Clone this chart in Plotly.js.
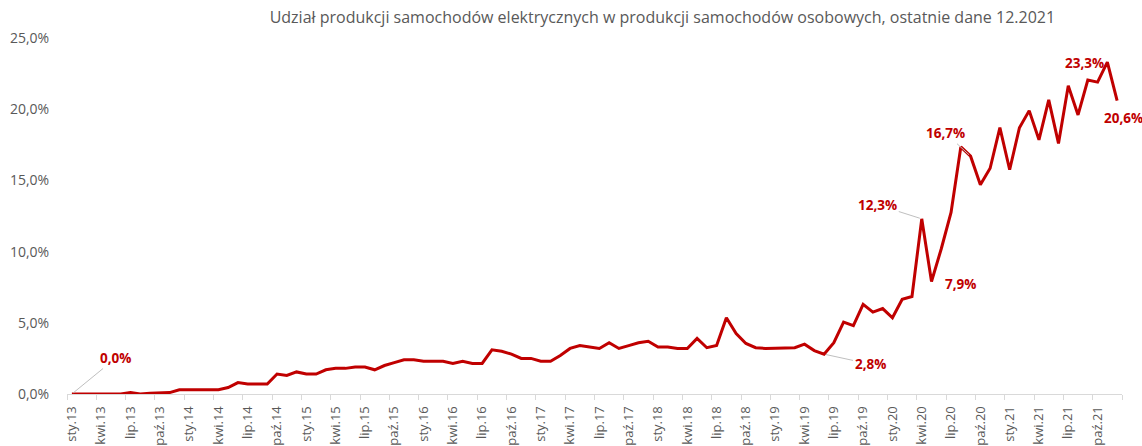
<!DOCTYPE html>
<html>
<head>
<meta charset="utf-8">
<script src="https://cdn.plot.ly/plotly-3.0.1.min.js"></script>
<style>html,body{margin:0;padding:0;background:#fff;}#chart{width:1142px;height:446px;}</style>
</head>
<body>
<div id="chart"></div>
<script>
// Monthly data Jan 2013 - Dec 2021 (share in %)
var monthNames = ["sty","lut","mar","kwi","maj","cze","lip","sie","wrz","paź","lis","gru"];
var years = ["13","14","15","16","17","18","19","20","21"];
var shareValues = [
  0.0, 0.0, 0.0, 0.0, 0.0, 0.0, 0.1, 0.0, 0.05, 0.1, 0.1, 0.3,
  0.3, 0.3, 0.3, 0.3, 0.45, 0.8, 0.7, 0.7, 0.7, 1.4, 1.3, 1.55,
  1.4, 1.4, 1.7, 1.8, 1.8, 1.9, 1.9, 1.7, 2.0, 2.2, 2.4, 2.4,
  2.3, 2.3, 2.3, 2.15, 2.3, 2.15, 2.15, 3.1, 3.0, 2.8, 2.5, 2.5,
  2.3, 2.3, 2.7, 3.2, 3.4, 3.3, 3.2, 3.6, 3.2, 3.4, 3.6, 3.7,
  3.3, 3.3, 3.2, 3.2, 3.9, 3.25, 3.4, 5.35, 4.25, 3.55, 3.25, 3.2,
  3.2, 3.2, 3.25, 3.5, 3.05, 2.8, 3.6, 5.05, 4.8, 6.3, 5.75, 6.0,
  5.35, 6.65, 6.85, 12.3, 7.9, 10.2, 12.75, 17.35, 16.7, 14.7, 15.85, 18.7,
  15.75, 18.7, 19.9, 17.85, 20.65, 17.6, 21.65, 19.6, 22.05, 21.9, 23.3, 20.6
];
var tickLabels = [
  "sty.13","kwi.13","lip.13","paź.13","sty.14","kwi.14","lip.14","paź.14",
  "sty.15","kwi.15","lip.15","paź.15","sty.16","kwi.16","lip.16","paź.16",
  "sty.17","kwi.17","lip.17","paź.17","sty.18","kwi.18","lip.18","paź.18",
  "sty.19","kwi.19","lip.19","paź.19","sty.20","kwi.20","lip.20","paź.20",
  "sty.21","kwi.21","lip.21","paź.21"
];
// indices of labelled points
var labelIdx = [0, 77, 87, 88, 92, 106, 107];

var categories = [];
years.forEach(function(y){ monthNames.forEach(function(m){ categories.push(m + "." + y); }); });
var xIdx = categories.map(function(_, i){ return i; });
var tickVals = tickLabels.map(function(_, k){ return 3 * k; });
var boundaryVals = [];
for (var k = 0; k <= categories.length / 3; k++) boundaryVals.push(3 * k - 0.5);

var red = "#c00000";
var grey = "#595959";
var font = "Open Sans, Liberation Sans, sans-serif";

function fmt(v){ return v.toFixed(1).replace(".", ",") + "%"; }

var annSpec = {
  0:   {ax: 44, ay: -36, arrow: true},
  77:  {ax: 46, ay: 10, arrow: true},
  87:  {ax: -44, ay: -14, arrow: true},
  88:  {ax: 29, ay: 2, arrow: false},
  92:  {ax: -25, ay: -23, arrow: true},
  106: {ax: -23, ay: 1, arrow: false},
  107: {ax: 6, ay: 17, arrow: false}
};
var annotations = labelIdx.map(function(i){
  var s = annSpec[i];
  var a = {
    x: xIdx[i], y: shareValues[i], xref: "x", yref: "y",
    text: "<b>" + fmt(shareValues[i]) + "</b>",
    font: {family: font, size: 13.5, color: red},
    showarrow: s.arrow
  };
  if (s.arrow) {
    a.ax = s.ax; a.ay = s.ay; a.arrowhead = 0; a.arrowwidth = 1;
    a.arrowcolor = "#bfbfbf"; a.standoff = 2;
  } else {
    a.xshift = s.ax; a.yshift = -s.ay;
  }
  return a;
});

var traces = [
  {
    x: xIdx, y: shareValues, type: "scatter", mode: "lines",
    line: {color: red, width: 3}, hoverinfo: "skip"
  },
  {
    x: [xIdx[0]], y: [shareValues[0]], xaxis: "x2", type: "scatter", mode: "none",
    hoverinfo: "skip", showlegend: false
  }
];

var layout = {
  width: 1142, height: 446,
  margin: {l: 67, r: 20, t: 38, b: 52, pad: 0},
  paper_bgcolor: "#ffffff", plot_bgcolor: "#ffffff",
  showlegend: false,
  separators: ", ",
  title: {
    text: "Udział produkcji samochodów elektrycznych w produkcji samochodów osobowych, ostatnie dane 12.2021",
    font: {family: font, size: 16, color: grey},
    x: 0.58, xanchor: "center", y: 0.96, yanchor: "middle"
  },
  xaxis: {
    range: [-0.5, categories.length - 0.5],
    tickmode: "array", tickvals: tickVals, ticktext: tickLabels,
    tickangle: -90, ticks: "outside", ticklen: 6, tickcolor: "rgba(0,0,0,0)",
    tickfont: {family: font, size: 13, color: grey},
    showline: true, linecolor: "#d9d9d9", linewidth: 1,
    showgrid: false, zeroline: false, automargin: false, fixedrange: true
  },
  xaxis2: {
    overlaying: "x", anchor: "y", side: "bottom",
    range: [-0.5, categories.length - 0.5],
    tickmode: "array", tickvals: boundaryVals,
    ticks: "outside", ticklen: 5, tickcolor: "#d9d9d9", tickwidth: 1,
    showticklabels: false, showgrid: false, zeroline: false, showline: false
  },
  yaxis: {
    range: [0, 25], dtick: 5, tick0: 0,
    tickformat: ".1f", ticksuffix: "%",
    ticks: "outside", ticklen: 14, tickcolor: "rgba(0,0,0,0)",
    tickfont: {family: font, size: 14, color: grey},
    showgrid: false, zeroline: false, showline: false, automargin: false, fixedrange: true
  },
  annotations: annotations
};

Plotly.newPlot("chart", traces, layout, {displayModeBar: false, staticPlot: true});
</script>
</body>
</html>
